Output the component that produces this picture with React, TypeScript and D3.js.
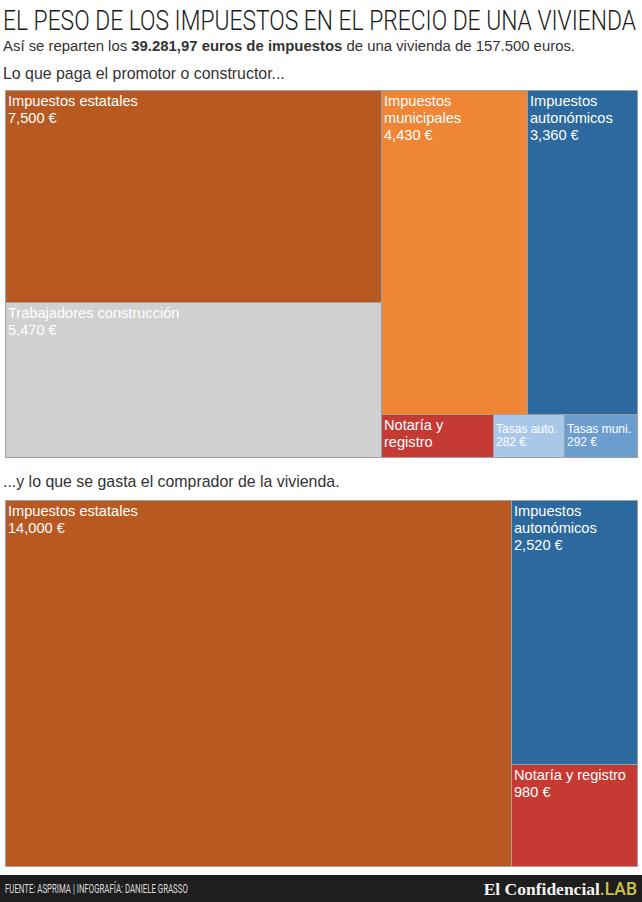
import * as React from 'react';
import * as d3 from 'd3';

const dimensions = { width: 642, height: 902 };
const margin = { left: 5, right: 5 };

// lo que paga el promotor
const promotorNames = [
  'Impuestos estatales',
  'Trabajadores construcción',
  'Impuestos municipales',
  'Impuestos autonómicos',
  'Notaría y registro',
  'Tasas auto.',
  'Tasas muni.',
];
const promotorValues = [7500, 5470, 4430, 3360, 448, 282, 292];

// lo que paga el comprador
const compradorNames = ['Impuestos estatales', 'Impuestos autonómicos', 'Notaría y registro'];
const compradorValues = [14000, 2520, 980];

const colorDomain = [
  'Impuestos estatales',
  'Trabajadores construcción',
  'Impuestos municipales',
  'Impuestos autonómicos',
  'Notaría y registro',
  'Tasas auto.',
  'Tasas muni.',
];
const color = d3
  .scaleOrdinal<string, string>()
  .domain(colorDomain)
  .range(['#b95922', '#d0d0d0', '#ef8636', '#2b699e', '#c53a33', '#a9c8e9', '#6b9ecf']);

const title = 'EL PESO DE LOS IMPUESTOS EN EL PRECIO DE UNA VIVIENDA';
const credit = 'FUENTE: ASPRIMA | INFOGRAFÍA: DANIELE GRASSO';

const fmt = d3.format(',');
const FONT = '"Liberation Sans", Arial, Helvetica, sans-serif';

let ctx: CanvasRenderingContext2D | null = null;
const measureFont = (s: string, font: string) => {
  if (!ctx) ctx = document.createElement('canvas').getContext('2d');
  ctx!.font = font;
  return ctx!.measureText(s).width;
};
const measure = (s: string, size: number) => measureFont(s, `${size}px ${FONT}`);

const wrap = (text: string, width: number, size: number) => {
  const words = text.split(' ');
  const lines: string[] = [];
  let cur = '';
  words.forEach((w) => {
    const t = cur ? cur + ' ' + w : w;
    if (cur && measure(t, size) > width) {
      lines.push(cur);
      cur = w;
    } else cur = t;
  });
  if (cur) lines.push(cur);
  return lines;
};

interface Item {
  name: string;
  value: number;
}

const Treemap: React.FC<{ names: string[]; values: number[]; top: number; height: number }> = ({
  names,
  values,
  top,
  height,
}) => {
  const width = dimensions.width - margin.left - margin.right;
  const items: Item[] = names.map((name, i) => ({ name, value: values[i] }));
  const root = d3
    .hierarchy<any>({ children: items })
    .sum((d) => d.value ?? 0);
  d3.treemap<any>().size([width, height]).tile(d3.treemapSquarify).round(true)(root);
  const leaves = root.leaves() as d3.HierarchyRectangularNode<any>[];

  return (
    <g transform={`translate(${margin.left}, ${top})`}>
      {leaves.map((d) => {
        const w = d.x1 - d.x0;
        const h = d.y1 - d.y0;
        const small = w < 90;
        const size = small ? 12 : 14.6;
        const lh = small ? 13 : 17;
        const first = small ? 19 : 16;
        const lines = [...wrap(d.data.name, w - 6, size), `${fmt(d.data.value)} €`];
        const shown = lines.filter((_, i) => first + i * lh + 3 <= h);
        return (
          <g key={d.data.name} transform={`translate(${d.x0}, ${d.y0})`}>
            <rect
              x={0.5}
              y={0.5}
              width={w}
              height={h}
              fill={color(d.data.name)}
              stroke="#a0a0a0"
              strokeWidth={1}
              shapeRendering="crispEdges"
            />
            <text fill="#fff" fontFamily={FONT} fontSize={size}>
              {shown.map((l, i) => (
                <tspan key={i} x={3} y={first + i * lh}>
                  {l}
                </tspan>
              ))}
            </text>
          </g>
        );
      })}
      <rect
        x={0.5}
        y={0.5}
        width={width}
        height={height}
        fill="none"
        stroke="#a0a0a0"
        shapeRendering="crispEdges"
      />
    </g>
  );
};

export default function App() {
  // squeeze the light sans into a condensed look
  const titleSx = 633 / measureFont(title, '300 27px Roboto');
  const creditSx = 183 / measureFont(credit, '400 12.5px Roboto');

  return (
    <svg
      width={dimensions.width}
      height={dimensions.height}
      viewBox={`0 0 ${dimensions.width} ${dimensions.height}`}
      style={{ position: 'absolute', left: 0, top: 0, display: 'block', background: '#fff' }}
    >
      <g transform={`translate(3, 30) scale(${titleSx}, 1)`}>
        <text fontFamily="Roboto, sans-serif" fontWeight={300} fontSize={27} fill="#1a1a1a">
          {title}
        </text>
      </g>
      <text x={3} y={51} fontFamily={FONT} fontSize={14.9} fill="#333">
        Así se reparten los <tspan fontWeight="bold">39.281,97 euros de impuestos</tspan> de una
        vivienda de 157.500 euros.
      </text>
      <text x={3} y={79} fontFamily={FONT} fontSize={15.9} fill="#333">
        Lo que paga el promotor o constructor...
      </text>
      <Treemap names={promotorNames} values={promotorValues} top={90} height={367} />
      <text x={3} y={487} fontFamily={FONT} fontSize={15.9} fill="#333">
        ...y lo que se gasta el comprador de la vivienda.
      </text>
      <Treemap names={compradorNames} values={compradorValues} top={500} height={366} />

      <rect x={0} y={875} width={dimensions.width} height={27} fill="#1e1e1e" />
      <g transform={`translate(5, 893) scale(${creditSx}, 1)`}>
        <text fontFamily="Roboto, sans-serif" fontSize={12.5} fill="#dcdcdc">
          {credit}
        </text>
      </g>
      <text
        x={637}
        y={895}
        textAnchor="end"
        fontFamily='"Liberation Serif", "DejaVu Serif", serif'
        fontWeight="bold"
        fontSize={17.5}
        fill="#f2f2f2"
      >
        El Confidencial
        <tspan fill="#c9c44b" fontFamily="Roboto, sans-serif" fontWeight={500}>
          .LAB
        </tspan>
      </text>
    </svg>
  );
}
